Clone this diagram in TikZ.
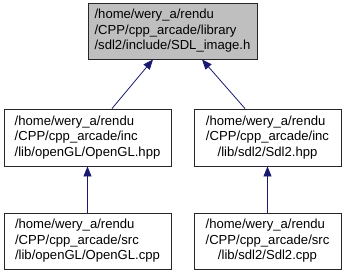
\documentclass[tikz,border=0pt]{standalone}
\usepackage{fontspec}
\setmainfont{Liberation Sans}
\usepackage{tikz}
\usetikzlibrary{arrows.meta}

\definecolor{edgeblue}{HTML}{191970}

% three-line file label: first two lines flush left, last one centred
\newcommand{\filelabel}[3]{\begin{tabular}{@{}l@{}}#1\\#2\\\multicolumn{1}{@{}c@{}}{#3}\end{tabular}}

\begin{document}
\begin{tikzpicture}[x=1pt, y=-1pt,
    file/.style={draw=black!85, line width=0.9pt, inner sep=0pt,
        font=\fontsize{13.1}{15.5}\selectfont},
    dep/.style={draw=edgeblue, line width=0.8pt,
        -{Triangle[length=10pt, width=8pt, fill=edgeblue]}}]
    \useasboundingbox (0,0) rectangle (347,275);

    % header that is included
    \node[file, fill=black!25, minimum width=169pt, minimum height=56pt] (img) at (172.5, 31)
        {\filelabel{/home/wery\_a/rendu}{/CPP/cpp\_arcade/library}{/sdl2/include/SDL\_image.h}};

    % headers including it
    \node[file, minimum width=167pt, minimum height=57pt] (glh) at (87.5, 137.5)
        {\filelabel{/home/wery\_a/rendu}{/CPP/cpp\_arcade/inc}{/lib/openGL/OpenGL.hpp}};
    \node[file, minimum width=147pt, minimum height=57pt] (sdlh) at (267.5, 137.5)
        {\filelabel{/home/wery\_a/rendu}{/CPP/cpp\_arcade/inc}{/lib/sdl2/Sdl2.hpp}};

    % sources
    \node[file, minimum width=167pt, minimum height=56pt] (glc) at (87.5, 241)
        {\filelabel{/home/wery\_a/rendu}{/CPP/cpp\_arcade/src}{/lib/openGL/OpenGL.cpp}};
    \node[file, minimum width=147pt, minimum height=56pt] (sdlc) at (267.5, 241)
        {\filelabel{/home/wery\_a/rendu}{/CPP/cpp\_arcade/src}{/lib/sdl2/Sdl2.cpp}};

    % include edges
    \draw[dep] ([xshift=24.5pt]glh.north) -- ([xshift=-19.5pt]img.south);
    \draw[dep] ([xshift=-22.5pt]sdlh.north) -- ([xshift=29.5pt]img.south);
    \draw[dep] (glc) -- (glh);
    \draw[dep] (sdlc) -- (sdlh);
\end{tikzpicture}
\end{document}
